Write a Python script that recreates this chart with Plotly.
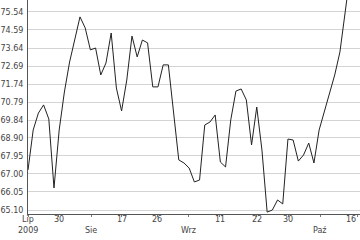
import plotly.graph_objects as go

# trading-day index (0 = 22 Jul 2009) and closing values
values = [67.21, 69.32, 70.21, 70.64, 69.90, 66.26, 69.32, 71.32, 72.90, 74.06,
          75.28, 74.70, 73.54, 73.64, 72.22, 72.85, 74.43, 71.53, 70.32, 71.95,
          74.27, 73.17, 74.06, 73.91, 71.59, 71.59, 72.75, 72.75, 70.11, 67.74,
          67.58, 67.31, 66.58, 66.68, 69.58, 69.74, 70.11, 67.63, 67.37, 69.85,
          71.37, 71.48, 70.90, 68.53, 70.53, 68.26, 64.99, 65.10, 65.63, 65.42,
          68.84, 68.79, 67.68, 68.00, 68.63, 67.58, 69.32, 70.27, 71.16, 72.22,
          73.43, 75.70, 77.60]
days = list(range(len(values)))

y_ticks = [65.10, 66.05, 67.00, 67.95, 68.90, 69.84, 70.79, 71.74, 72.69, 73.64, 74.59, 75.54]
y_tick_labels = ["65.10", "66.05", "67.00", "67.95", "68.90", "69.84", "70.79", "71.74",
                 "72.69", "73.64", "74.59", "75.54"]

x_ticks = [0, 5.9, 12.2, 18.0, 24.9, 30.8, 36.9, 44.0, 50.1, 56.2, 63.3]
x_tick_labels = ["Lip", "30", "", "17", "26", "", "11", "22", "30", "", "16"]
month_pos = [0, 12.2, 30.8, 56.2]
month_labels = ["2009", "Sie", "Wrz", "Paź"]

fig = go.Figure()
fig.add_trace(go.Scatter(x=days, y=values, mode="lines",
                         line=dict(color="#222222", width=1), hoverinfo="skip"))

font = dict(family="DejaVu Sans", size=8, color="#444444")

last = max(i for i, lab in enumerate(x_tick_labels) if lab)
for i, (xp, lab) in enumerate(zip(x_ticks, x_tick_labels)):
    if lab:
        fig.add_annotation(x=xp, y=0, xref="x", yref="paper", text=lab, showarrow=False,
                           yanchor="top", xanchor="right" if i == last else "center",
                           xshift=1 if i == last else 0, yshift=1, font=font)
for xp, lab in zip(month_pos, month_labels):
    fig.add_annotation(x=xp, y=0, xref="x", yref="paper", text=lab, showarrow=False,
                       yanchor="top", xanchor="center", yshift=-10, font=font)

fig.update_layout(
    width=360, height=240,
    margin=dict(l=26, r=0, t=0, b=26),
    paper_bgcolor="white", plot_bgcolor="white",
    showlegend=False,
    xaxis=dict(range=[0, 63.86], tickmode="array", tickvals=x_ticks, showticklabels=False,
               showgrid=False, zeroline=False, showline=True, linecolor="#555555", linewidth=1,
               ticks="outside", ticklen=2, tickcolor="#777777"),
    yaxis=dict(range=[64.89, 76.17], tickmode="array", tickvals=y_ticks, ticktext=y_tick_labels,
               showgrid=True, gridcolor="#d4d4d4", gridwidth=1, zeroline=False,
               showline=True, linecolor="#555555", linewidth=1, ticks="", tickfont=font,
               ticklabelstandoff=2),
)

fig.write_html("out.html")
